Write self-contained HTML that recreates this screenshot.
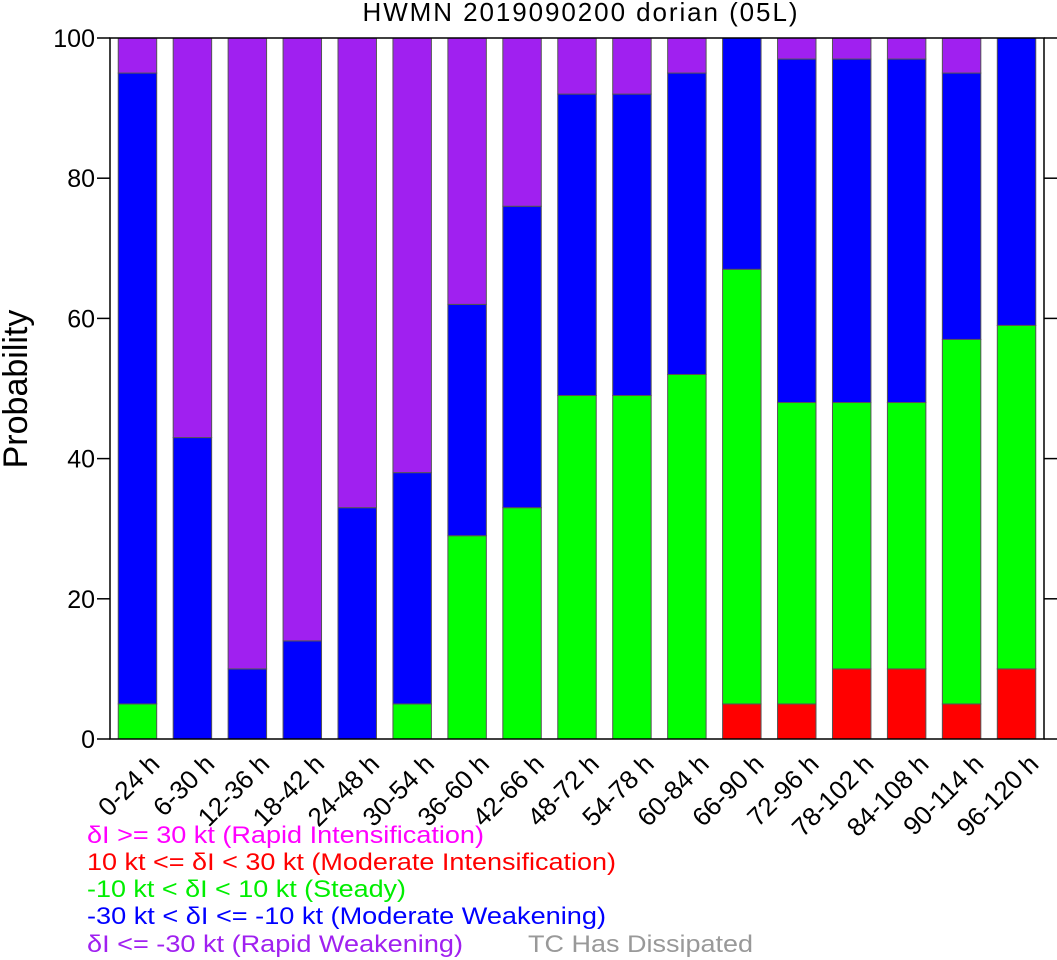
<!DOCTYPE html>
<html><head><meta charset="utf-8"><style>
html,body{margin:0;padding:0;background:#fff;}
svg{display:block;font-family:"Liberation Sans",sans-serif;}
</style></head><body>
<svg id="chart" width="1057" height="960">
<text x="580" y="21" font-size="26" text-anchor="middle" textLength="435">HWMN 2019090200 dorian (05L)</text>
<text transform="translate(27,389) rotate(-90)" font-size="34" text-anchor="middle">Probability</text>
<g id="bars"></g>
<g id="axes"></g>
<g font-size="24">
<text x="87" y="843" fill="#ff00ff" textLength="397" lengthAdjust="spacingAndGlyphs">δI &gt;= 30 kt (Rapid Intensification)</text>
<text x="87" y="870" fill="#ff0000" textLength="529" lengthAdjust="spacingAndGlyphs">10 kt &lt;= δI &lt; 30 kt (Moderate Intensification)</text>
<text x="87" y="897" fill="#00ee00" textLength="319" lengthAdjust="spacingAndGlyphs">-10 kt &lt; δI &lt; 10 kt (Steady)</text>
<text x="87" y="924" fill="#0000ff" textLength="519" lengthAdjust="spacingAndGlyphs">-30 kt &lt; δI &lt;= -10 kt (Moderate Weakening)</text>
<text x="87" y="952" fill="#a020f0" textLength="376" lengthAdjust="spacingAndGlyphs">δI &lt;= -30 kt (Rapid Weakening)</text>
<text x="528" y="952" fill="#999999" textLength="225" lengthAdjust="spacingAndGlyphs">TC Has Dissipated</text>
</g>
</svg>
<script>
const categories=["0-24 h","6-30 h","12-36 h","18-42 h","24-48 h","30-54 h","36-60 h","42-66 h","48-72 h","54-78 h","60-84 h","66-90 h","72-96 h","78-102 h","84-108 h","90-114 h","96-120 h"];
const modIntens=[0,0,0,0,0,0,0,0,0,0,0,5,5,10,10,5,10];
const steady=[5,0,0,0,0,5,29,33,49,49,52,62,43,38,38,52,49];
const modWeak=[90,43,10,14,33,33,33,43,43,43,43,33,49,49,49,38,41];
const rapidWeak=[5,57,90,86,67,62,38,24,8,8,5,0,3,3,3,5,0];
const rapidIntens=[0,0,0,0,0,0,0,0,0,0,0,0,0,0,0,0,0];
const yTicks=[0,20,40,60,80,100];

const NS="http://www.w3.org/2000/svg";
const L=110,R=1044,T=38,B=739;
const step=(R-L)/categories.length;
const xC=i=>L+(i+0.5)*step;
const y=v=>B-(v/100)*(B-T);
const bw=step*0.7;
const bars=document.getElementById('bars');
const axes=document.getElementById('axes');
function mk(tag,attrs,parent){const e=document.createElementNS(NS,tag);for(const k in attrs)e.setAttribute(k,attrs[k]);parent.appendChild(e);return e;}
const series=[[modIntens,"#ff0000","mod-intens"],[steady,"#00ff00","steady"],[modWeak,"#0000ff","mod-weak"],[rapidWeak,"#a020f0","rapid-weak"],[rapidIntens,"#ff00ff","rapid-intens"]];
categories.forEach((c,i)=>{
  let base=0;
  series.forEach(s=>{
    const v=s[0][i];
    if(v>0){
      const r=mk('rect',{x:xC(i)-bw/2,y:y(base+v),width:bw,height:y(base)-y(base+v),fill:s[1],stroke:"#555",'stroke-width':1},bars);
      
      
    }
    base+=v;
  });
  const t=mk('text',{transform:`translate(${xC(i)+10},${752}) rotate(-45)`,'text-anchor':'end','font-size':26,'dominant-baseline':'hanging'},axes);
  t.textContent=c;
  
  
});
const frame=mk('rect',{x:L,y:T,width:R-L,height:B-T,fill:'none',stroke:'#000','stroke-width':1.5},axes);


yTicks.forEach(v=>{
  mk('line',{x1:L-13,x2:L,y1:y(v),y2:y(v),stroke:'#000','stroke-width':1.5},axes);
  mk('line',{x1:R,x2:R+13,y1:y(v),y2:y(v),stroke:'#000','stroke-width':1.5},axes);
  const t=mk('text',{x:L-15,y:y(v)+9,'text-anchor':'end','font-size':25},axes);
  t.textContent=v;
  
  
});
</script>
</body></html>
